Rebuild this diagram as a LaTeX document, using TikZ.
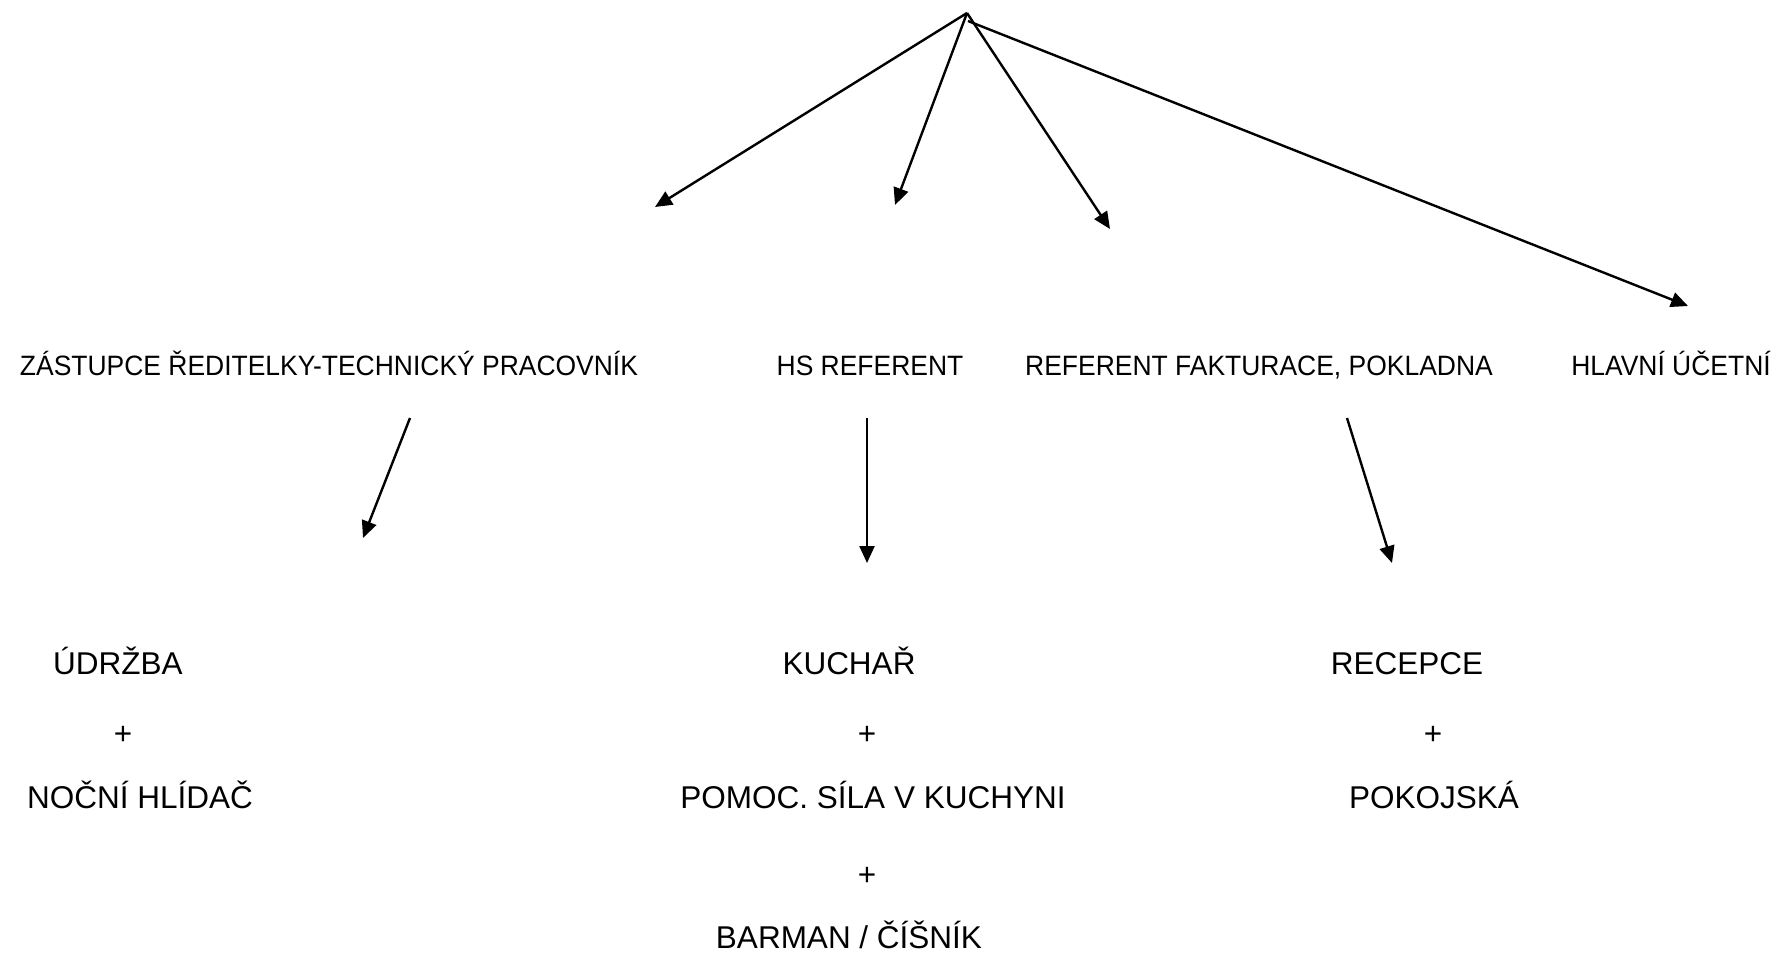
\documentclass[tikz,border=0pt]{standalone}
\usepackage{fontspec}
\setmainfont{Liberation Sans}
\usetikzlibrary{arrows.meta}
\newcommand{\hdtext}[1]{\scalebox{0.945}[1]{#1}}
\begin{document}
\begin{tikzpicture}[x=1pt,y=-1pt,
  conn/.style={line width=2.4pt,-{Triangle[length=17pt,width=15pt]}},
  head/.style={inner sep=0pt,anchor=base,font=\fontsize{28}{32}\selectfont},
  sub/.style={inner sep=0pt,anchor=base,font=\fontsize{31.5}{36}\selectfont}]
\useasboundingbox (0,0) rectangle (1780,955);
% apex and arrow ends
\coordinate (top) at (967,13);
\coordinate (top4) at (968,21);
\coordinate (e1) at (655,207);
\coordinate (e2) at (895,205);
\coordinate (e3) at (1110,229);
\coordinate (e4) at (1688,306);
\coordinate (s5) at (410,418);
\coordinate (e5) at (363,538);
\coordinate (s6) at (867,418);
\coordinate (e6) at (867,563);
\coordinate (s7) at (1347,418);
\coordinate (e7) at (1392,563);
% headings
\node[head] (zast) at (329,375) {\hdtext{ZÁSTUPCE ŘEDITELKY-TECHNICKÝ PRACOVNÍK}};
\node[head] (hs) at (870,375) {\hdtext{HS REFERENT}};
\node[head] (ref) at (1259,375) {\hdtext{REFERENT FAKTURACE, POKLADNA}};
\node[head] (hlav) at (1671,375) {\hdtext{HLAVNÍ ÚČETNÍ}};
% lower groups
\node[sub] (udr) at (118,674) {ÚDRŽBA};
\node[sub] (p1) at (123,744) {+};
\node[sub] (noc) at (140,808) {NOČNÍ HLÍDAČ};
\node[sub] (kuch) at (849,674) {KUCHAŘ};
\node[sub] (p2) at (867,744) {+};
\node[sub] (pom) at (873,808) {POMOC. SÍLA V KUCHYNI};
\node[sub] (p3) at (867,885) {+};
\node[sub] (bar) at (849,948) {BARMAN / ČÍŠNÍK};
\node[sub] (rec) at (1407,674) {RECEPCE};
\node[sub] (p4) at (1433,744) {+};
\node[sub] (pok) at (1434,808) {POKOJSKÁ};
% connectors
\draw[conn] (top) -- (e1);
\draw[conn] (top) -- (e2);
\draw[conn] (top) -- (e3);
\draw[conn] (top4) -- (e4);
\draw[conn] (s5) -- (e5);
\draw[conn] (s6) -- (e6);
\draw[conn] (s7) -- (e7);
\end{tikzpicture}
\end{document}
